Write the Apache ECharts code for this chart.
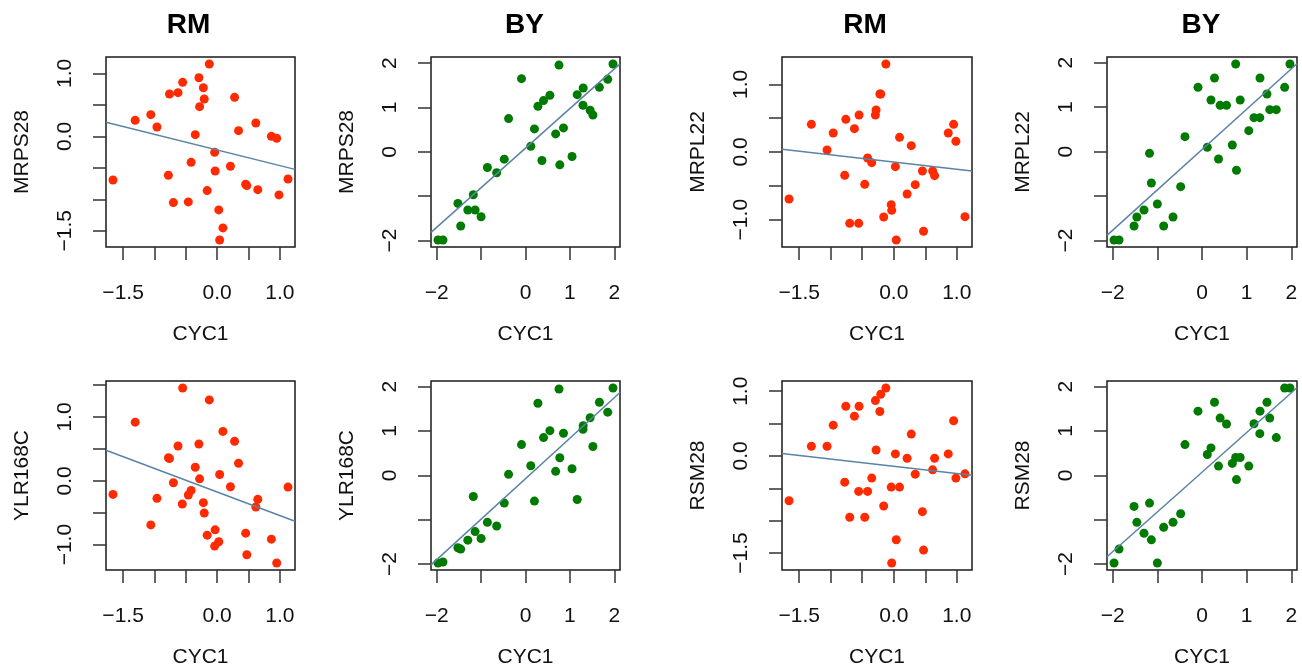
<!DOCTYPE html>
<html>
<head>
<meta charset="utf-8">
<script src="https://cdn.jsdelivr.net/npm/echarts@6/dist/echarts.min.js"></script>
<style>
  html, body { margin: 0; padding: 0; background: #fff; }
  #chart { width: 1302px; height: 669px; }
</style>
</head>
<body>
<div id="chart"></div>
<script>
// CYC1 expression shared by all panels of one strain
const cyc1RM = [-1.661, -1.307, -1.058, -0.960, -0.778, -0.760, -0.698, -0.624, -0.556, -0.550,
  -0.460, -0.415, -0.349, -0.291, -0.280, -0.220, -0.206, -0.159, -0.125, -0.040,
  -0.032, 0.026, 0.040, 0.092, 0.212, 0.278, 0.341, 0.455, 0.473, 0.617,
  0.648, 0.865, 0.950, 0.986, 1.130];
const cyc1BY = [-1.970, -1.858, -1.522, -1.459, -1.299, -1.175, -1.134, -1.000, -0.858, -0.649,
  -0.478, -0.381, -0.090, 0.119, 0.201, 0.280, 0.370, 0.406, 0.549, 0.679,
  0.754, 0.772, 0.855, 1.048, 1.164, 1.295, 1.299, 1.455, 1.518, 1.664,
  1.851, 1.970];

// RM strain, partner genes (null = missing measurement)
const mrps28RM = [-0.693, 0.254, 0.344, 0.148, -0.619, 0.672, -1.053, 0.693, null, 0.857,
  -1.042, -0.413, 0.026, 0.931, 0.471, 0.772, 0.593, -0.862, 1.148, -0.254,
  -0.550, -1.169, -1.646, -1.455, -0.476, 0.619, 0.090, -0.762, -0.783, 0.212,
  -0.847, 0.000, -0.032, -0.931, -0.677];
const mrpl22RM = [-0.695, 0.409, 0.030, 0.281, -0.345, 0.483, -1.054, 0.345, -1.054, 0.547,
  -0.478, -0.089, -0.158, 0.547, 0.621, 0.857, 0.857, -0.961, 1.300, -0.778,
  -0.862, -0.217, -1.300, 0.217, -0.621, 0.094, -0.483, -0.281, -1.172, -0.281,
  -0.350, 0.281, 0.409, 0.158, -0.956];
const ylr168cRM = [-0.213, 0.919, -0.691, -0.275, 0.360, 0.350, -0.031, 0.545, -0.363, 1.454,
  -0.223, -0.151, 0.213, 0.576, 0.031, -0.343, -0.504, -0.852, 1.267, -1.023,
  -0.768, -0.955, 0.099, 0.774, -0.093, 0.618, 0.275, -0.820, -1.158, -0.410,
  -0.291, -0.914, -1.288, null, -0.099];
const rsm28RM = [-0.692, 0.149, 0.149, 0.476, -0.405, 0.768, -0.948, 0.615, -0.548, 0.768,
  -0.948, -0.548, -0.343, 0.855, 0.092, 0.686, 0.953, -0.774, 1.050, -0.482,
  -1.655, 0.031, -1.296, -0.482, -0.036, 0.338, -0.282, -0.861, -1.455, -0.215,
  -0.036, 0.031, 0.543, -0.343, -0.277];

// BY strain, partner genes (null = missing measurement)
const mrps28BY = [-1.985, -1.985, -1.161, -1.670, -1.311, -0.966, -1.311, -1.461, -0.352, -0.472,
  -0.165, 0.749, 1.648, 0.127, 0.517, 1.026, -0.195, 1.154, 1.273, 0.404,
  1.955, -0.292, 0.539, -0.105, 1.288, 1.049, 1.438, 0.936, 0.831, 1.453,
  1.633, 1.978];
const mrpl22BY = [-1.985, -1.985, -1.670, -1.468, -1.311, -0.037, -0.704, -1.176, -1.670, -1.468,
  -0.787, 0.337, 1.446, 0.097, 1.161, 1.655, -0.165, 1.041, 1.041, 0.150,
  1.970, -0.419, 1.161, 0.472, 0.764, 0.764, 1.655, 1.296, 0.944, 0.944,
  1.446, 1.970];
const ylr168cBY = [-1.978, -1.955, -1.634, -1.664, -1.463, -0.478, -1.269, -1.425, -1.060, -1.142,
  -0.627, 0.022, 0.694, 0.216, -0.582, 1.627, null, 0.851, 1.007, 0.090,
  1.948, 0.396, 0.948, 0.149, -0.545, 1.037, 1.119, 1.299, 0.649, 1.649,
  1.425, 1.970];
const rsm28BY = [-1.978, -1.664, -0.701, -1.060, -1.306, -0.627, -1.455, -1.978, -1.172, -1.060,
  -0.866, 0.694, 1.448, 0.470, 0.619, 1.649, 0.209, 1.291, 1.157, 0.269,
  0.403, -0.097, 0.403, 0.209, 1.164, 0.940, 1.448, 1.649, 1.291, 0.851,
  1.970, 1.970];

// Tick marks and labelled ticks
const ticksRMx = [-1.5, -1.0, -0.5, 0.0, 0.5, 1.0];
const labelsRMx = [-1.5, 0.0, 1.0];
const ticksBY = [-2, -1, 0, 1, 2];
const labelsBY = [-2, 0, 1, 2];
const ticksMRPS28RM = [-1.5, -1.0, -0.5, 0.0, 0.5, 1.0];
const labelsMRPS28RM = [-1.5, 0.0, 1.0];
const ticksMRPL22RM = [-1.0, -0.5, 0.0, 0.5, 1.0];
const labelsMRPL22RM = [-1.0, 0.0, 1.0];
const ticksYLR168CRM = [-1.0, -0.5, 0.0, 0.5, 1.0, 1.5];
const labelsYLR168CRM = [-1.0, 0.0, 1.0];
const ticksRSM28RM = [-1.5, -1.0, -0.5, 0.0, 0.5, 1.0];
const labelsRSM28RM = [-1.5, 0.0, 1.0];

const RED = '#ff2a00';
const GREEN = '#007a00';
const FIT = '#5b83a6';
const FONT = '"Liberation Sans", Arial, Helvetica, sans-serif';

const panels = [
  { strain: 'RM', gene: 'MRPS28',  x: cyc1RM, y: mrps28RM,  xt: ticksRMx, xl: labelsRMx, yt: ticksMRPS28RM,  yl: labelsMRPS28RM },
  { strain: 'BY', gene: 'MRPS28',  x: cyc1BY, y: mrps28BY,  xt: ticksBY,  xl: labelsBY,  yt: ticksBY,        yl: labelsBY },
  { strain: 'RM', gene: 'MRPL22',  x: cyc1RM, y: mrpl22RM,  xt: ticksRMx, xl: labelsRMx, yt: ticksMRPL22RM,  yl: labelsMRPL22RM },
  { strain: 'BY', gene: 'MRPL22',  x: cyc1BY, y: mrpl22BY,  xt: ticksBY,  xl: labelsBY,  yt: ticksBY,        yl: labelsBY },
  { strain: 'RM', gene: 'YLR168C', x: cyc1RM, y: ylr168cRM, xt: ticksRMx, xl: labelsRMx, yt: ticksYLR168CRM, yl: labelsYLR168CRM },
  { strain: 'BY', gene: 'YLR168C', x: cyc1BY, y: ylr168cBY, xt: ticksBY,  xl: labelsBY,  yt: ticksBY,        yl: labelsBY },
  { strain: 'RM', gene: 'RSM28',   x: cyc1RM, y: rsm28RM,   xt: ticksRMx, xl: labelsRMx, yt: ticksRSM28RM,   yl: labelsRSM28RM },
  { strain: 'BY', gene: 'RSM28',   x: cyc1BY, y: rsm28BY,   xt: ticksBY,  xl: labelsBY,  yt: ticksBY,        yl: labelsBY }
];

// Plot-box layout (2 rows x 4 columns)
const colLeft = [106, 431, 782, 1107];
const colWidth = [189, 189, 190, 190];
const rowTop = [57, 381];
const boxHeight = 190;

// complete (x, y) pairs only
function pairs(xs, ys) {
  const out = [];
  xs.forEach((v, k) => { if (ys[k] !== null) out.push([v, ys[k]]); });
  return out;
}
// axis range padded by 4% on each side
function padRange(arr) {
  const lo = Math.min(...arr), hi = Math.max(...arr);
  const d = (hi - lo) * 0.04;
  return [lo - d, hi + d];
}
// least-squares fit y = a + b x
function fit(pts) {
  const n = pts.length;
  const mx = pts.reduce((s, p) => s + p[0], 0) / n;
  const my = pts.reduce((s, p) => s + p[1], 0) / n;
  let sxy = 0, sxx = 0;
  pts.forEach(p => { sxy += (p[0] - mx) * (p[1] - my); sxx += (p[0] - mx) ** 2; });
  const b = sxy / sxx;
  return [my - b * mx, b];
}
function fmt(strain) {
  return v => {
    const s = strain === 'RM' ? Number(v).toFixed(1) : String(Math.round(v));
    return s.replace('-', '\u2212');
  };
}

const grids = [], xAxes = [], yAxes = [], series = [], graphics = [];
panels.forEach((p, i) => {
  const col = i % 4, row = Math.floor(i / 4);
  const left = colLeft[col], top = rowTop[row], w = colWidth[col];
  const pts = pairs(p.x, p.y);
  grids.push({ left: left, top: top, width: w, height: boxHeight, show: true,
    borderColor: '#1a1a1a', borderWidth: 1.5, backgroundColor: 'transparent' });
  const xr = padRange(pts.map(q => q[0])), yr = padRange(pts.map(q => q[1]));
  const tickStyle = { color: '#333', width: 1.5 };
  xAxes.push({ type: 'value', gridIndex: i, position: 'bottom', min: xr[0], max: xr[1],
    name: 'CYC1', nameLocation: 'middle', nameGap: 77,
    nameTextStyle: { fontFamily: FONT, fontSize: 21, color: '#111' },
    axisLine: { show: false, onZero: false }, splitLine: { show: false },
    axisTick: { show: true, inside: false, length: 13, lineStyle: tickStyle, customValues: p.xt },
    axisLabel: { show: true, margin: 36, fontFamily: FONT, fontSize: 21, color: '#111',
      customValues: p.xl, formatter: fmt(p.strain) } });
  yAxes.push({ type: 'value', gridIndex: i, position: 'left', min: yr[0], max: yr[1],
    name: p.gene, nameLocation: 'middle', nameGap: 73, nameRotate: 90,
    nameTextStyle: { fontFamily: FONT, fontSize: 21, color: '#111' },
    axisLine: { show: false, onZero: false }, splitLine: { show: false },
    axisTick: { show: true, inside: false, length: 13, lineStyle: tickStyle, customValues: p.yt },
    axisLabel: { show: true, margin: 30, rotate: 90, fontFamily: FONT, fontSize: 21, color: '#111',
      customValues: p.yl, formatter: fmt(p.strain) } });
  const color = p.strain === 'RM' ? RED : GREEN;
  series.push({ type: 'scatter', xAxisIndex: i, yAxisIndex: i, symbol: 'circle', symbolSize: 9,
    itemStyle: { color: color, opacity: 1 }, z: 2, data: pts });
  const [a, b] = fit(pts);
  series.push({ type: 'line', xAxisIndex: i, yAxisIndex: i, showSymbol: false, silent: true, z: 3,
    lineStyle: { color: FIT, width: 1.5 },
    data: [[xr[0], a + b * xr[0]], [xr[1], a + b * xr[1]]] });
  if (row === 0) {
    const shift = p.strain === 'RM' ? -12 : -1;
    graphics.push({ type: 'text', x: left + w / 2 + shift, y: 25,
      style: { text: p.strain, fontFamily: FONT, fontSize: 28, fontWeight: 'bold', fill: '#000',
        align: 'center', verticalAlign: 'middle', textAlign: 'center', textVerticalAlign: 'middle' } });
  }
});

const chart = echarts.init(document.getElementById('chart'), null, { renderer: 'canvas' });
chart.setOption({
  animation: false,
  backgroundColor: '#ffffff',
  grid: grids,
  xAxis: xAxes,
  yAxis: yAxes,
  series: series,
  graphic: graphics
});
</script>
</body>
</html>
